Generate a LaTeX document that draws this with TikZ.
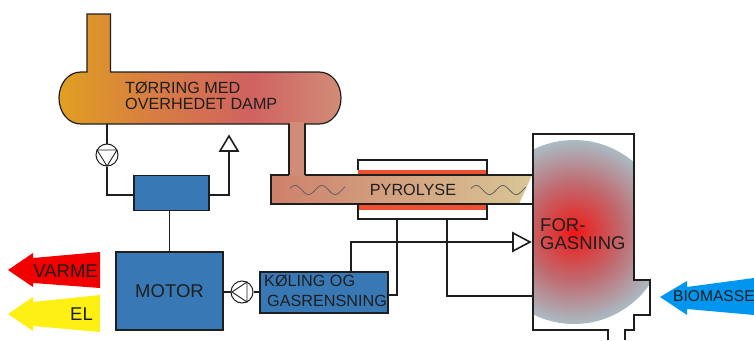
\documentclass[tikz,border=0pt]{standalone}
\usepackage{fontspec}
\setmainfont{Liberation Sans}
\usetikzlibrary{calc}
\definecolor{dryA}{RGB}{224,160,32}
\definecolor{dryB}{RGB}{216,128,64}
\definecolor{dryC}{RGB}{208,98,96}
\definecolor{dryD}{RGB}{208,140,118}
\definecolor{tubeA}{RGB}{206,128,108}
\definecolor{tubeB}{RGB}{216,198,150}
\definecolor{gasA}{RGB}{240,20,20}
\definecolor{gasB}{RGB}{226,50,50}
\definecolor{gasC}{RGB}{192,105,110}
\definecolor{gasD}{RGB}{170,187,196}
\definecolor{boxblue}{RGB}{56,120,180}
\definecolor{hotred}{RGB}{240,80,50}
\definecolor{bioblue}{RGB}{0,150,240}
\definecolor{elyellow}{RGB}{255,240,20}
\definecolor{ink}{RGB}{30,30,30}
\pgfdeclarehorizontalshading{dryshade}{100bp}{color(0bp)=(dryA);color(25bp)=(dryA);color(40bp)=(dryB);color(59bp)=(dryC);color(75bp)=(dryD);color(100bp)=(dryD)}
\pgfdeclarehorizontalshading{tubeshade}{100bp}{color(0bp)=(tubeA);color(25bp)=(tubeA);color(75bp)=(tubeB);color(100bp)=(tubeB)}
\pgfdeclareradialshading{gasshade}{\pgfpoint{0bp}{0bp}}{color(0bp)=(gasA);color(4bp)=(gasB);color(13bp)=(gasC);color(25bp)=(gasD);color(50bp)=(gasD)}
\tikzset{
  lbl/.style={font=\fontsize{16.2}{16}\selectfont,text=ink,inner sep=0pt,align=left},
  big lbl/.style={font=\fontsize{18.5}{18}\selectfont,text=ink,inner sep=0pt,align=left},
  pipe/.style={line width=1.6pt,draw=ink},
  blue box/.style={draw=ink,line width=1.3pt,fill=boxblue,inner sep=0pt,text=ink},
  pump/.style={circle,draw=ink,line width=1pt,fill=white,minimum size=22pt,inner sep=0pt},
  wave/.style={draw=ink!70,line width=.8pt},
  tip/.style={draw=ink,line width=1.6pt,fill=white,line join=miter}
}
\begin{document}
\begin{tikzpicture}[x=1pt,y=-1pt]
\useasboundingbox (0,0) rectangle (754,340);
% gasifier glow
\begin{scope}
\clip (533,134) -- (634,134) -- (634,280) -- (650,280) -- (650,315) -- (634,315) -- (634,330) -- (533,330) -- cycle;
\shade[shading=gasshade] (574,232) circle (92);
\end{scope}
% gasifier wall
\draw[pipe] (608,340) -- (608,330) -- (533,330) -- (533,134) -- (634,134) -- (634,280) -- (650,280) -- (650,315) -- (634,315) -- (634,330) -- (625,330) -- (625,340);
% pyrolysis jacket
\fill[hotred] (358,170) rectangle (487,175);
\fill[hotred] (358,205) rectangle (487,210);
\draw[pipe] (358,170) -- (358,160) -- (487,160) -- (487,175);
\draw[pipe] (358,204) -- (358,219) -- (487,219) -- (487,204);
% tube, duct, dryer
\shade[shading=tubeshade] (271,175) -- (532,175) -- (519,204) -- (271,204) -- cycle;
\draw[pipe] (533,175) -- (271,175) -- (271,204) -- (533,204);
\fill[dryD] (289,120) rectangle (305,176);
\draw[pipe] (289,124) -- (289,175);
\draw[pipe] (305,124) -- (305,175);
\shade[shading=dryshade,draw=ink,line width=1.2pt]
  (87,72) -- (87,14) -- (110.5,14) -- (110.5,72) -- (319,72)
  .. controls (332,72) and (341,84) .. (341,98)
  .. controls (341,112) and (332,124) .. (319,124)
  -- (81,124)
  .. controls (68,124) and (59,112) .. (59,98)
  .. controls (59,84) and (68,72) .. (81,72) -- cycle;
\fill[dryD] (290,122) rectangle (304,127);
% waves
\draw[wave] plot[domain=0:55,samples=70] ({290+\x},{190+4.5*sin(\x*13.5+200)});
\draw[wave] plot[domain=0:55,samples=70] ({471+\x},{190+4.5*sin(\x*13.5+200)});
% boxes
\node[blue box,minimum width=75pt,minimum height=35pt] (hx) at (171.5,193) {};
\node[blue box,big lbl,minimum width=107pt,minimum height=78pt,align=center] (motor) at (169.5,291) {MOTOR};
\node[blue box,minimum width=128pt,minimum height=41pt] (clean) at (324,292.5) {};
\node[lbl,anchor=west] (tk) at (264,281) {KØLING OG};
\node[lbl,anchor=west] (tg) at (267,301) {GASRENSNING};
\node[pump] (p1) at (107,155) {};
\node[pump] (p2) at (242,292) {};
\draw[line width=.9pt,draw=ink] (97,150) -- (117,150) -- (107,166) -- cycle;
\draw[line width=.9pt,draw=ink] (232,292) -- (247,282) -- (247,302) -- cycle;
% open arrow tips
\coordinate (upbend) at (229,195);
\node[inner sep=0pt,minimum size=0pt] (uptip) at (229,151) {};
\node[inner sep=0pt,minimum size=0pt] (gastip) at (513,242) {};
\draw[tip] (220,151) -- (229,136) -- (238,151) -- cycle;
\draw[tip] (513,233) -- (530,242) -- (513,251) -- cycle;
% connectors
\coordinate (dryS) at (107,124);
\coordinate (jk1) at (397,219);
\coordinate (jk2) at (447,219);
\coordinate (gasL) at (533,296);
\draw[pipe] (dryS) -- (p1.north);
\draw[pipe] (p1.south) |- (hx.west |- upbend);
\draw[pipe] (hx.east |- upbend) -- (upbend) -- (uptip);
\draw[pipe] (motor.north) -- (motor.north |- hx.south);
\draw[pipe] (motor.east |- p2.west) -- (p2.west);
\draw[pipe] (p2.east) -- (clean.west |- p2.east);
\draw[pipe] (351,272) -- (351,242) -- (gastip);
\draw[pipe] (388,295) -- (397,295) -- (jk1);
\draw[pipe] (jk2) -- (447,296) -- (gasL);
\fill[ink] (397,242) circle (1.5);
\fill[ink] (447,242) circle (1.5);
% output arrows
\fill[red!95!black] (8,270) -- (33,253) -- (33,258) -- (100,252) -- (100,288) -- (33,283) -- (33,287) -- cycle;
\fill[elyellow] (8,314) -- (33,297) -- (33,302) -- (100,295) -- (100,332) -- (33,326) -- (33,331) -- cycle;
\fill[bioblue] (660,297) -- (687,281) -- (687,287) -- (754,278) -- (754,315) -- (687,309) -- (687,315) -- cycle;
% labels
\node[lbl,anchor=west] (tdry) at (125,96) {TØRRING MED\\OVERHEDET DAMP};
\node[lbl] (tpyr) at (413,190) {PYROLYSE};
\node[big lbl,anchor=west] (tgas) at (540,234) {FOR-\\GASNING};
\node[big lbl,anchor=east] (tvar) at (98,271) {VARME};
\node[big lbl,anchor=east] (tel) at (93,314) {EL};
\node[lbl,anchor=west,font=\fontsize{15.6}{16}\selectfont] (tbio) at (673,296) {BIOMASSE};
\end{tikzpicture}
\end{document}
